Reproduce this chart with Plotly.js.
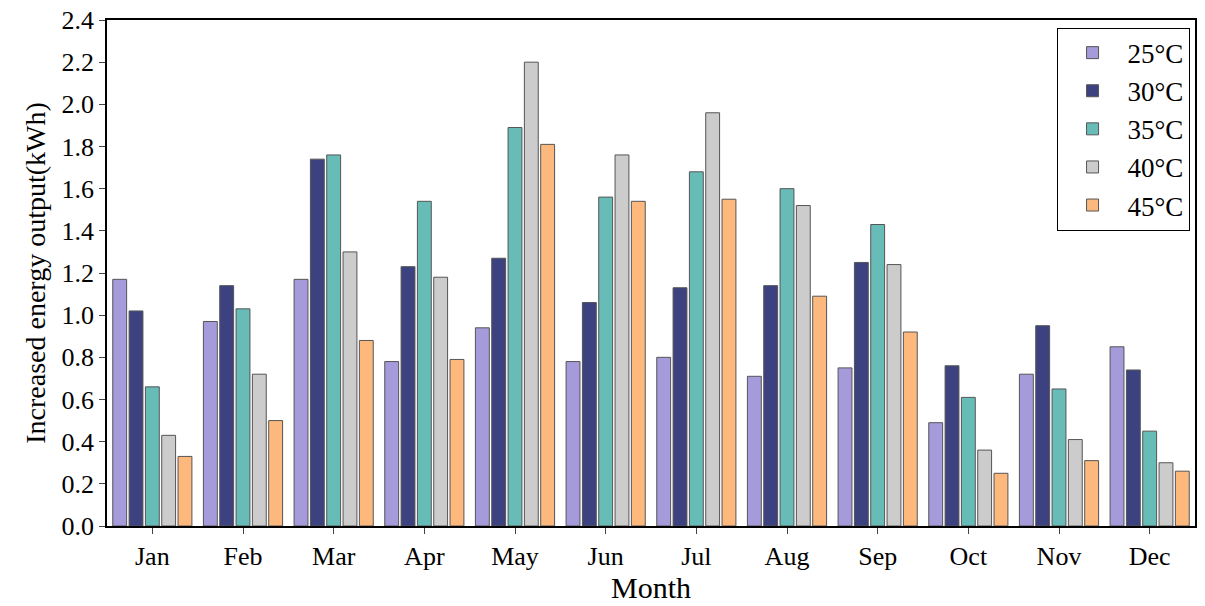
<!DOCTYPE html>
<html><head><meta charset="utf-8">
<script src="https://cdn.plot.ly/plotly-3.0.1.min.js"></script>
<style>body{margin:0;background:#fff}</style></head>
<body><div id="chart" style="width:1205px;height:606px"></div>
<script>
var months = ['Jan','Feb','Mar','Apr','May','Jun','Jul','Aug','Sep','Oct','Nov','Dec'];
var seriesNames = ['25°C','30°C','35°C','40°C','45°C'];
var t25 = [1.17,0.97,1.17,0.78,0.94,0.78,0.80,0.71,0.75,0.49,0.72,0.85];
var t30 = [1.02,1.14,1.74,1.23,1.27,1.06,1.13,1.14,1.25,0.76,0.95,0.74];
var t35 = [0.66,1.03,1.76,1.54,1.89,1.56,1.68,1.60,1.43,0.61,0.65,0.45];
var t40 = [0.43,0.72,1.30,1.18,2.20,1.76,1.96,1.52,1.24,0.36,0.41,0.30];
var t45 = [0.33,0.50,0.88,0.79,1.81,1.54,1.55,1.09,0.92,0.25,0.31,0.26];
var colors = ['#a59bdb','#3c4280','#68bcb8','#cccccc','#fdb97d'];

var all = [t25,t30,t35,t40,t45];
var traces = all.map(function(v,i){
  return {type:'bar', x:months, y:v, name:seriesNames[i],
    marker:{color:colors[i], line:{color:'#555', width:1}}};
});
var font = {family:'Liberation Serif, Times New Roman, serif', size:26, color:'#000'};
var layout = {
  width:1205, height:606,
  margin:{l:107, r:10, t:20, b:80},
  font:font,
  barmode:'group', bargap:0.1, bargroupgap:0.15,
  showlegend:true,
  legend:{x:0.995, y:0.985, xanchor:'right', yanchor:'top', bordercolor:'#000', borderwidth:1,
    bgcolor:'#fff', itemwidth:60, tracegroupgap:0, font:{family:font.family, size:27}},
  xaxis:{title:{text:'Month', font:{size:30}, standoff:6}, showline:true, mirror:true, linecolor:'#000', linewidth:1.5,
    ticks:'outside', ticklen:6, tickfont:{size:26}},
  yaxis:{title:{text:'Increased energy output(kWh)', font:{size:28}, standoff:8}, range:[0,2.4], dtick:0.2, tickformat:'.1f',
    showline:true, mirror:true, linecolor:'#000', linewidth:1.5, ticks:'outside', ticklen:6,
    showgrid:false, zeroline:false, tickfont:{size:26}},
  plot_bgcolor:'#fff', paper_bgcolor:'#fff'
};
Plotly.newPlot('chart', traces, layout, {displayModeBar:false});
</script></body></html>
